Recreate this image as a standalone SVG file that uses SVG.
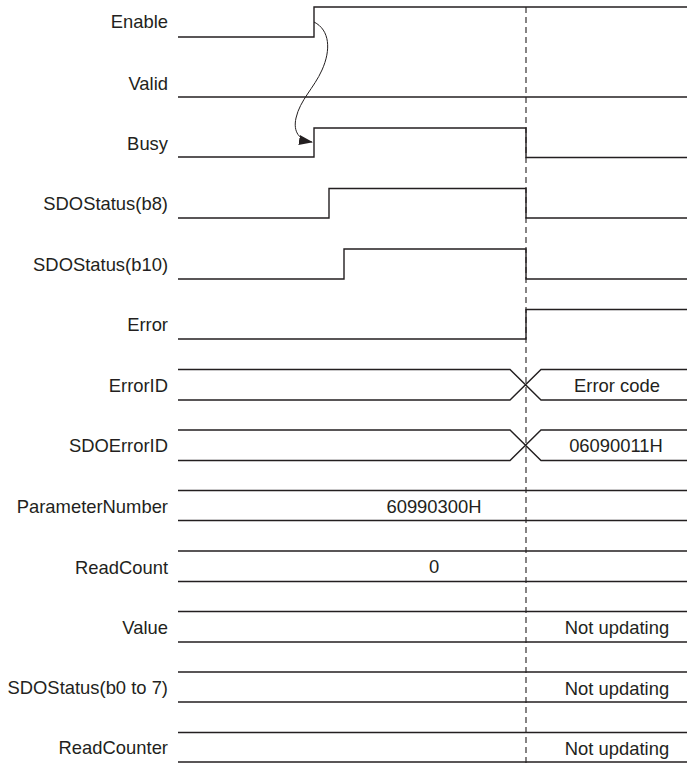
<svg xmlns="http://www.w3.org/2000/svg" width="687" height="763" viewBox="0 0 687 763">
<style>
  .lbl{font-family:"Liberation Sans",Arial,sans-serif;font-size:18.4px;fill:#231f20;text-anchor:end}
  .val{font-family:"Liberation Sans",Arial,sans-serif;font-size:18.4px;fill:#231f20;text-anchor:middle}
  .sig{fill:none;stroke:#231f20;stroke-width:1.4}
  .dash{fill:none;stroke:#231f20;stroke-width:1.1;stroke-dasharray:6 4}
  .arc{fill:none;stroke:#231f20;stroke-width:1}
</style>
<defs>
  <marker id="ah" markerUnits="userSpaceOnUse" markerWidth="14" markerHeight="10" refX="13" refY="5" orient="auto">
    <path d="M0,0 L14,5 L0,10 Z" fill="#231f20"/>
  </marker>
</defs>
<rect width="687" height="763" fill="#fff"/>

<g id="connectors">
  <line class="dash" x1="526" y1="7" x2="526" y2="763"/>
  <path class="arc" d="M314,22 C330,30 331,50 322,70 C314,88 300,100 296,118 C293,132 299,140 312,142" marker-end="url(#ah)"/>
</g>

<g id="enable">
  <text class="lbl" x="168" y="28">Enable</text>
  <path class="sig" d="M178,37 H314 V7 H687"/>
</g>
<g id="valid">
  <text class="lbl" x="168" y="90">Valid</text>
  <path class="sig" d="M178,97 H687"/>
</g>
<g id="busy">
  <text class="lbl" x="168" y="150">Busy</text>
  <path class="sig" d="M178,157 H314 V128 H526 V157.5 H687"/>
</g>
<g id="sdostatus-b8">
  <text class="lbl" x="168" y="210">SDOStatus(b8)</text>
  <path class="sig" d="M178,218 H329 V188.5 H526 V218 H687"/>
</g>
<g id="sdostatus-b10">
  <text class="lbl" x="168" y="271">SDOStatus(b10)</text>
  <path class="sig" d="M178,279 H344 V249 H526 V279 H687"/>
</g>
<g id="error">
  <text class="lbl" x="168" y="331">Error</text>
  <path class="sig" d="M178,339 H526 V309.5 H687"/>
</g>
<g id="errorid">
  <text class="lbl" x="168" y="392">ErrorID</text>
  <path class="sig" d="M178,369.5 H510 L541,400 H687 M178,400 H510 L541,369.5 H687"/>
  <text class="val" x="617" y="392">Error code</text>
</g>
<g id="sdoerrorid">
  <text class="lbl" x="168" y="452">SDOErrorID</text>
  <path class="sig" d="M178,430 H510 L541,460.5 H687 M178,460.5 H510 L541,430 H687"/>
  <text class="val" x="616" y="452">06090011H</text>
</g>
<g id="parameternumber">
  <text class="lbl" x="168" y="513">ParameterNumber</text>
  <path class="sig" d="M178,490.5 H687 M178,520.5 H687"/>
  <text class="val" x="434" y="513">60990300H</text>
</g>
<g id="readcount">
  <text class="lbl" x="168" y="574">ReadCount</text>
  <path class="sig" d="M178,551 H687 M178,581.5 H687"/>
  <text class="val" x="434" y="573">0</text>
</g>
<g id="value">
  <text class="lbl" x="168" y="634">Value</text>
  <path class="sig" d="M178,611.5 H687 M178,642 H687"/>
  <text class="val" x="617" y="634">Not updating</text>
</g>
<g id="sdostatus-b0-7">
  <text class="lbl" x="168" y="694">SDOStatus(b0 to 7)</text>
  <path class="sig" d="M178,672 H687 M178,702 H687"/>
  <text class="val" x="617" y="695">Not updating</text>
</g>
<g id="readcounter">
  <text class="lbl" x="168" y="754">ReadCounter</text>
  <path class="sig" d="M178,732.5 H687 M178,762 H687"/>
  <text class="val" x="617" y="755">Not updating</text>
</g>
</svg>
